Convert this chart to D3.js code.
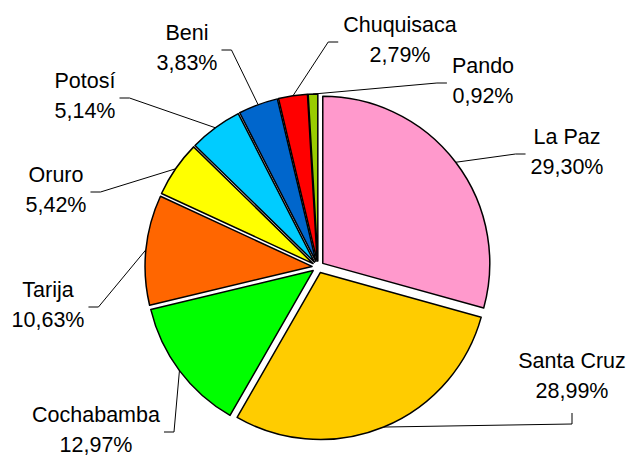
<!DOCTYPE html>
<html>
<head>
<meta charset="utf-8">
<script src="https://cdn.jsdelivr.net/npm/d3@7"></script>
<style>
  html, body { margin: 0; padding: 0; background: #fff; }
  text { font-family: "Liberation Sans", Arial, sans-serif; font-size: 21.5px; fill: #000; }
</style>
</head>
<body>
<div id="chart"></div>
<script>
// departamentos y porcentajes
const names = ['La Paz', 'Santa Cruz', 'Cochabamba', 'Tarija', 'Oruro', 'Potosí', 'Beni', 'Chuquisaca', 'Pando']
const values = [29.30, 28.99, 12.97, 10.63, 5.42, 5.14, 3.83, 2.79, 0.92]
const colors = ['#ff99cc', '#ffcc00', '#00ff00', '#ff6600', '#ffff00', '#00ccff', '#0066cc', '#ff0000', '#99cc00']

// donde va cada etiqueta (centro x, primera linea base) y de que lado llega la linea
const labelX = [567, 572, 96, 48, 56, 85, 187, 400, 483]
const labelY = [144, 368, 422, 297, 182, 88, 40, 32, 73]
const labelSide = ['left', 'below', 'right', 'right', 'right', 'right', 'right', 'left', 'left']

const width = 630
const height = 456
const cx = 318
const cy = 267
const radius = 167
const explode = 6
const lineGap = 30

const fmt = v => d3.format('.2f')(v).replace('.', ',') + '%'

const svg = d3.select('#chart')
  .append('svg')
  .attr('width', width)
  .attr('height', height)

svg.append('rect')
  .attr('width', width)
  .attr('height', height)
  .attr('fill', '#fff')

const pie = d3.pie()
  .sort(null)
  .value(d => d.value)

const arc = d3.arc()
  .innerRadius(0)
  .outerRadius(radius)

const data = names.map((n, i) => ({ name: n, value: values[i], color: colors[i], i: i }))
const arcs = pie(data)

const dir = d => {
  const a = (d.startAngle + d.endAngle) / 2
  return [Math.sin(a), -Math.cos(a)]
}

const g = svg.append('g')
  .attr('transform', `translate(${cx},${cy})`)

g.selectAll('path')
  .data(arcs)
  .enter()
  .append('path')
  .attr('d', arc)
  .attr('transform', d => {
    const [dx, dy] = dir(d)
    return `translate(${dx * explode},${dy * explode})`
  })
  .style('fill', d => d.data.color)
  .style('stroke', '#000')
  .style('stroke-width', 1.5)
  .style('stroke-linejoin', 'round')

// etiquetas
const labels = svg.append('g')
  .selectAll('text')
  .data(arcs)
  .enter()
  .append('text')
  .attr('text-anchor', 'middle')

labels.append('tspan')
  .attr('x', d => labelX[d.data.i])
  .attr('y', d => labelY[d.data.i])
  .text(d => d.data.name)

labels.append('tspan')
  .attr('x', d => labelX[d.data.i])
  .attr('y', d => labelY[d.data.i] + lineGap)
  .text(d => fmt(d.data.value))

// lineas guia
const leader = svg.insert('g', 'g')
labels.each(function (d) {
  const box = this.getBBox()
  const i = d.data.i
  const [dx, dy] = dir(d)
  const start = [cx + dx * (radius + explode), cy + dy * (radius + explode)]
  let end, elbow
  if (labelSide[i] === 'left') {
    end = [box.x - 5, labelY[i] + 10]
    elbow = [end[0] - 10, end[1]]
  } else if (labelSide[i] === 'right') {
    end = [box.x + box.width + 4, labelY[i] + 10]
    elbow = [end[0] + 10, end[1]]
  } else {
    end = [labelX[i], labelY[i] + lineGap + 15]
    elbow = [end[0], end[1] + 11]
  }
  leader.append('path')
    .attr('d', d3.line()([start, elbow, end]))
    .style('fill', 'none')
    .style('stroke', '#000')
    .style('stroke-width', 1)
})
</script>
</body>
</html>
